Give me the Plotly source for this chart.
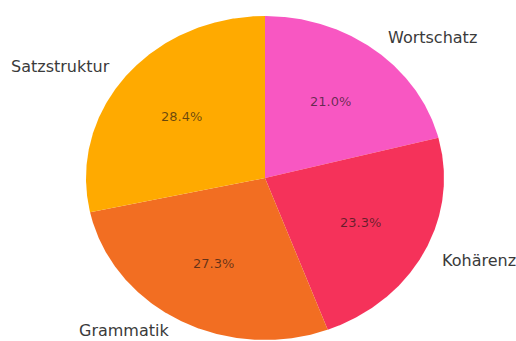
import numpy as np
import plotly.graph_objects as go

# Share of feedback per writing aspect (clockwise from 12 o'clock)
categories = ["Wortschatz", "Kohärenz", "Grammatik", "Satzstruktur"]
values = [21.0, 23.3, 27.3, 28.4]
colors = ["#F857C2", "#F5325A", "#F26E22", "#FFAA00"]

LABEL_DIST = 1.1
PCT_DIST = 0.6

total = float(sum(values))
fractions = [v / total for v in values]

fig = go.Figure()
annotations = []

cum = 0.0
for name, frac, col in zip(categories, fractions, colors):
    a0 = np.pi / 2 - 2 * np.pi * cum
    a1 = np.pi / 2 - 2 * np.pi * (cum + frac)
    t = np.linspace(a0, a1, 240)
    xs = np.concatenate([[0.0], np.cos(t), [0.0]])
    ys = np.concatenate([[0.0], np.sin(t), [0.0]])
    fig.add_trace(go.Scatter(
        x=xs, y=ys, mode="lines", fill="toself", fillcolor=col,
        line=dict(width=0, color=col), hoverinfo="text", text=name,
        showlegend=False,
    ))
    mid = (a0 + a1) / 2
    cx, cy = np.cos(mid), np.sin(mid)
    # keep the lowest label fully inside the page
    bottom = cy < -0.8
    annotations.append(dict(
        x=LABEL_DIST * cx, y=LABEL_DIST * cy, text=name, showarrow=False,
        xanchor="left" if cx > 0 else "right",
        yanchor="bottom" if bottom else "middle",
        yshift=-8 if bottom else 0,
        font=dict(family="DejaVu Sans", size=16, color="#3a3a3a"),
    ))
    annotations.append(dict(
        x=PCT_DIST * cx, y=PCT_DIST * cy, text=f"{frac * 100:.1f}%",
        showarrow=False, xanchor="center", yanchor="middle",
        font=dict(family="DejaVu Sans", size=13, color="rgba(25,20,20,0.66)"),
    ))
    cum += frac

fig.update_layout(
    width=516, height=341,
    margin=dict(l=0, r=0, t=0, b=0),
    paper_bgcolor="white", plot_bgcolor="white",
    xaxis=dict(range=[-265 / 179, 251 / 179], visible=False, fixedrange=True),
    yaxis=dict(range=[-163 / 162, 178 / 162], visible=False, fixedrange=True),
    annotations=annotations,
)

fig.write_html("out.html")
